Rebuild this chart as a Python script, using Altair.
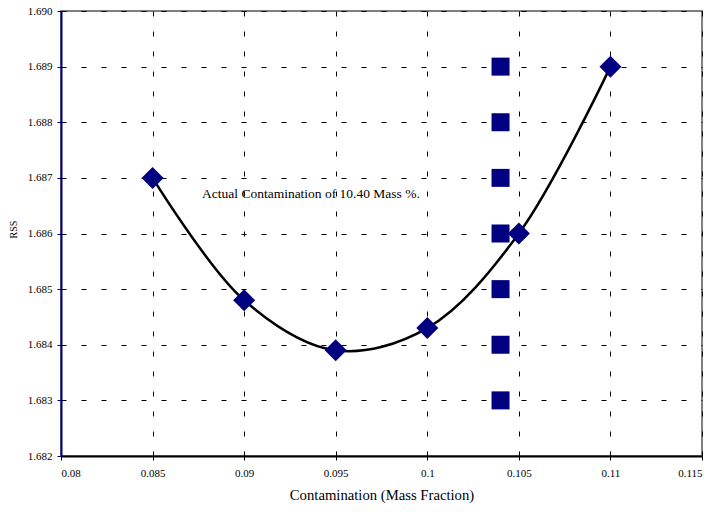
import altair as alt
import pandas as pd

# Residual sum of squares for each trial contamination level
contamination = [0.085, 0.09, 0.095, 0.1, 0.105, 0.11]
rss = [1.6870, 1.6848, 1.6839, 1.6843, 1.6860, 1.6890]

# Vertical marker at the actual contamination (10.40 mass %)
actual_x = [0.104] * 7
actual_y = [1.683, 1.684, 1.685, 1.686, 1.687, 1.688, 1.689]

x_ticks = [0.08, 0.085, 0.09, 0.095, 0.1, 0.105, 0.11, 0.115]
y_ticks = [1.682, 1.683, 1.684, 1.685, 1.686, 1.687, 1.688, 1.689, 1.690]

note_text = ["Actual Contamination of 10.40 Mass %."]
note_x = [0.0877]
note_y = [1.68671]

fit_df = pd.DataFrame({"x": contamination, "y": rss})
actual_df = pd.DataFrame({"x": actual_x, "y": actual_y})
note_df = pd.DataFrame({"x": note_x, "y": note_y, "t": note_text})

NAVY = "#000080"
SERIF = "Liberation Serif"

x_scale = alt.Scale(domain=[0.08, 0.115], nice=False, zero=False)
y_scale = alt.Scale(domain=[1.682, 1.690], nice=False, zero=False)

x_enc = alt.X(
    "x:Q",
    scale=x_scale,
    title="Contamination (Mass Fraction)",
    axis=alt.Axis(
        values=x_ticks,
        format="~g",
        grid=True,
        gridColor="black",
        gridDash=[5, 15],
        gridWidth=1,
        domainColor="black",
        domainWidth=2,
        tickColor="black",
        tickSize=4,
        labelFont=SERIF,
        labelFontSize=11,
        labelColor="black",
        labelPadding=7,
        titleFont=SERIF,
        titleFontSize=14.7,
        titleFontWeight="normal",
        titleColor="black",
        titlePadding=9,
    ),
)
y_enc = alt.Y(
    "y:Q",
    scale=y_scale,
    title="RSS",
    axis=alt.Axis(
        values=y_ticks,
        format=".3f",
        grid=True,
        gridColor="black",
        gridDash=[5, 15],
        gridWidth=1,
        domainColor=NAVY,
        domainWidth=2,
        tickColor=NAVY,
        tickSize=4,
        labelFont=SERIF,
        labelFontSize=11,
        labelColor="black",
        labelPadding=5,
        titleFont=SERIF,
        titleFontSize=10,
        titleFontWeight="normal",
        titleColor="black",
        titlePadding=9,
        titleY=218,
    ),
)

curve = alt.Chart(fit_df).mark_line(
    color="black", strokeWidth=2.5, interpolate="catmull-rom"
).encode(x=x_enc, y=y_enc)

diamonds = alt.Chart(fit_df).mark_point(
    shape="diamond", size=484, filled=True, color=NAVY, opacity=1
).encode(x="x:Q", y="y:Q")

squares = alt.Chart(actual_df).mark_point(
    shape="square", size=324, filled=True, color=NAVY, opacity=1
).encode(x="x:Q", y="y:Q")

note = alt.Chart(note_df).mark_text(
    align="left", baseline="middle", font=SERIF, fontSize=13.5, color="black"
).encode(x="x:Q", y="y:Q", text="t:N")

chart = (
    alt.layer(curve, diamonds, squares, note)
    .properties(
        width=641,
        height=445,
        autosize=alt.AutoSizeParams(type="none"),
        padding={"left": 61, "top": 11, "right": 13, "bottom": 60},
        background="white",
    )
    .configure_view(stroke="#808080", strokeWidth=2)
)

chart.save("out.html", embed_options={"renderer": "svg", "actions": False})
